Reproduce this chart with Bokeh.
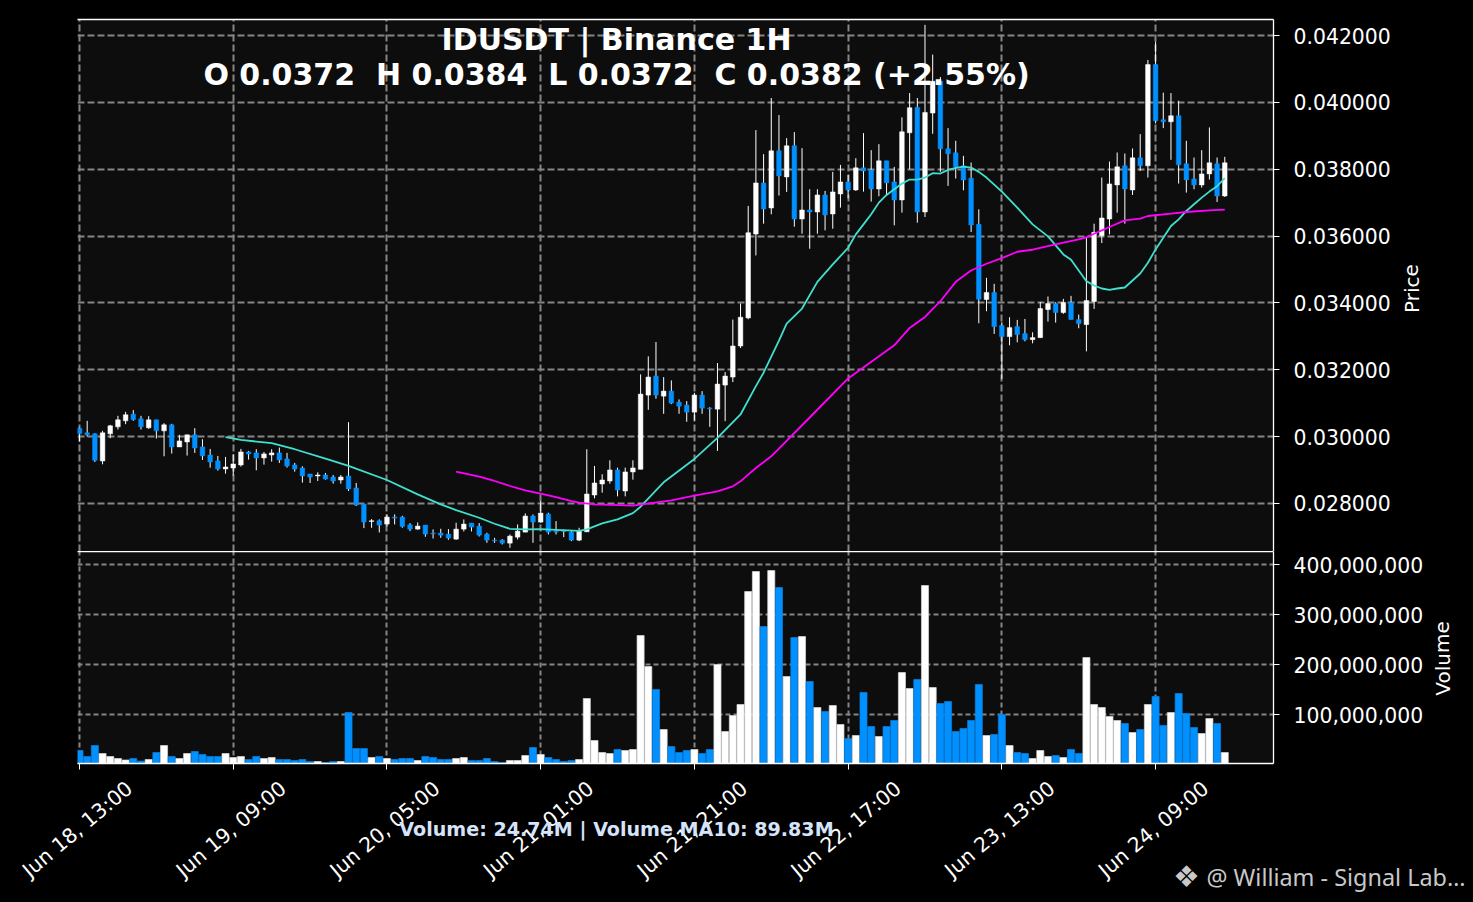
from bokeh.plotting import figure
from bokeh.layouts import column
from bokeh.models import (FixedTicker, Label, LinearAxis, NumeralTickFormatter,
                          ColumnDataSource, Range1d)
from bokeh.embed import file_html
from bokeh.resources import INLINE

# Prices are in units of 0.00001 USDT
opens = [3025,3011,3008,2927,3008,3029,3047,3067,3053,3026,
         3050,3017,3035,2969,2984,3005,2969,2945,2927,2903,
         2906,2915,2954,2951,2936,2945,2951,2933,2915,2906,
         2888,2882,2885,2879,2870,2882,2846,2798,2746,2748,
         2738,2759,2759,2736,2723,2735,2711,2711,2708,2693,
         2723,2741,2732,2708,2690,2690,2681,2699,2714,2762,
         2744,2768,2716,2717,2714,2690,2715,2825,2858,2867,
         2900,2837,2894,2902,3124,3181,3121,3136,3103,3094,
         3073,3124,3085,3082,3154,3178,3271,3355,3606,3759,
         3684,3855,3777,3870,3651,3678,3672,3723,3666,3726,
         3762,3738,3804,3798,3741,3825,3762,3708,3909,3985,
         3672,3968,4063,3861,3849,3810,3773,3635,3410,3431,
         3332,3299,3329,3308,3290,3296,3380,3398,3371,3401,
         3350,3335,3404,3601,3651,3753,3810,3738,3834,3810,
         4113,3948,3942,3960,3816,3771,3753,3786,3816,3720]
highs = [3027,3047,3010,3017,3035,3062,3074,3079,3062,3061,
         3050,3040,3038,3005,3005,3025,2992,2963,2942,2939,
         2947,2963,2957,2962,2954,2962,2967,2951,2921,2911,
         2888,2893,2891,2885,2885,3043,2861,2798,2753,2752,
         2767,2767,2763,2741,2743,2735,2722,2724,2723,2742,
         2752,2741,2741,2712,2697,2693,2707,2737,2770,2767,
         2807,2772,2747,2722,2717,2727,2962,2912,2887,2929,
         2907,2907,2929,3186,3240,3283,3178,3168,3111,3106,
         3131,3136,3088,3220,3193,3350,3398,3690,3917,3845,
         4013,3962,3893,3911,3863,3740,3740,3735,3792,3813,
         3783,3833,3908,3857,3875,3825,3807,3955,4028,4013,
         4232,4143,4076,3923,3885,3840,3820,3680,3475,3457,
         3342,3357,3349,3352,3312,3403,3419,3402,3412,3421,
         3365,3595,3637,3775,3823,3850,3847,3862,3905,4127,
         4182,4029,4028,4005,3885,3835,3857,3925,3835,3837]
lows = [2985,3000,2924,2917,2995,3021,3037,3047,3021,3023,
        2994,2941,2949,2969,2943,2951,2930,2907,2898,2889,
        2883,2910,2931,2899,2916,2925,2921,2907,2895,2862,
        2861,2867,2871,2859,2859,2837,2792,2726,2727,2713,
        2731,2737,2727,2717,2721,2700,2695,2697,2691,2691,
        2716,2716,2701,2682,2682,2677,2667,2692,2714,2682,
        2742,2707,2707,2699,2687,2687,2715,2815,2832,2859,
        2821,2821,2871,2902,3080,3113,3068,3097,3068,3044,
        3048,3068,3029,2957,3046,3163,3265,3351,3542,3637,
        3665,3721,3732,3628,3607,3562,3607,3617,3622,3685,
        3713,3735,3733,3703,3719,3720,3632,3670,3800,3640,
        3657,3906,3792,3750,3772,3737,3612,3339,3375,3307,
        3172,3273,3282,3285,3279,3296,3344,3341,3367,3350,
        3324,3255,3382,3579,3605,3670,3637,3723,3795,3775,
        3937,3923,3828,3757,3730,3740,3745,3769,3702,3717]
closes = [3008,3005,2929,3011,3032,3050,3065,3051,3029,3050,
          3017,3035,2969,2987,3005,2966,2942,2924,2903,2909,
          2918,2954,2948,2936,2948,2951,2930,2912,2903,2882,
          2879,2885,2873,2867,2879,2843,2795,2744,2748,2735,
          2759,2756,2731,2723,2732,2708,2709,2705,2696,2723,
          2738,2729,2705,2690,2688,2681,2702,2717,2762,2744,
          2771,2714,2714,2716,2690,2717,2828,2861,2870,2900,
          2840,2894,2906,3127,3178,3124,3136,3100,3091,3073,
          3124,3085,3083,3157,3181,3271,3357,3610,3759,3681,
          3855,3780,3870,3651,3678,3672,3723,3663,3732,3762,
          3738,3804,3795,3741,3825,3759,3708,3912,3984,3672,
          3970,4063,3861,3846,3807,3768,3633,3411,3431,3329,
          3299,3326,3305,3290,3296,3383,3398,3371,3401,3350,
          3338,3407,3611,3654,3756,3807,3741,3834,3810,4113,
          3945,3942,3960,3813,3768,3753,3786,3819,3720,3819]
# Volume in millions
volumes = [28,16,38,22,16,12,9,12,7,10,
           24,38,16,12,22,26,20,16,16,22,
           14,16,10,16,12,14,10,10,8,10,
           6,6,4,6,6,104,32,32,14,16,
           12,10,12,12,8,16,14,10,10,12,
           14,8,8,12,6,4,8,8,18,34,
           20,14,10,6,8,10,132,48,24,22,
           30,28,30,258,196,150,70,36,24,28,
           30,22,30,200,66,98,120,346,386,276,
           388,354,176,254,256,166,114,106,118,80,
           52,58,144,76,56,76,88,184,152,170,
           358,154,122,126,66,72,88,160,58,60,
           100,38,24,22,12,28,16,18,14,30,
           22,214,120,114,96,88,82,64,70,120,
           136,78,104,142,102,74,62,92,82,24]

ma_fast_idx = [19,21,25,28,32,35,40,44,47,49,52,54,56,58,60,62,65,66,68,70,72,73,75,76,80,83,86,88,89,90,91,92,94,96,98,
               100,101,102,103,104,105,106,107,108,109,110,111,112,113,114,115,116,117,118,120,122,124,126,127,128,129,
               130,131,132,133,134,135,136,137,138,139,140,141,142,143,144,145,146,147,148,149]
ma_fast = [2998,2990,2980,2962,2934,2912,2870,2827,2797,2780,2757,2739,2724,2722,2723,2721,2718,2722,2740,2752,2771,2790,2839,2863,2933,2996,3066,3151,3191,3239,3287,3338,3383,3463,3515,
           3565,3605,3635,3665,3700,3723,3740,3757,3769,3769,3775,3788,3787,3798,3804,3808,3805,3792,3775,3733,3685,3635,3599,3572,3545,3529,
           3497,3465,3452,3443,3439,3443,3446,3467,3488,3520,3560,3595,3630,3650,3675,3695,3715,3733,3749,3773]
ma_slow_idx = [49,52,54,56,58,60,62,64,65,67,70,72,73,77,80,83,85,86,87,88,90,95,100,106,108,110,112,114,116,118,120,122,124,126,128,130,131,132,133,134,136,138,139,142,144,147,149]
ma_slow = [2895,2880,2867,2852,2839,2829,2819,2807,2802,2797,2795,2793,2796,2809,2823,2836,2851,2866,2886,2906,2941,3057,3174,3273,3325,3358,3405,3463,3497,3517,3534,3553,3559,3570,3580,3590,3596,3607,3617,3627,3647,3652,3660,3667,3672,3677,3679]

tick_idx = [0, 20, 40, 60, 80, 100, 120, 140]
tick_labels = ["Jun 18, 13:00", "Jun 19, 09:00", "Jun 20, 05:00", "Jun 21, 01:00",
               "Jun 21, 21:00", "Jun 22, 17:00", "Jun 23, 13:00", "Jun 24, 09:00"]
price_ticks = [0.028, 0.030, 0.032, 0.034, 0.036, 0.038, 0.040, 0.042]
volume_ticks = [100e6, 200e6, 300e6, 400e6]

UP = "#ffffff"
DOWN = "#0090ff"
BG = "#0d0d0d"
GRID = "#858585"
FONT = "DejaVu Sans"

idx = list(range(len(closes)))
scale = 1e-5
colors = [UP if c >= o else DOWN for o, c in zip(opens, closes)]
edges = ["#d9d9d9" if c >= o else "#0a80dc" for o, c in zip(opens, closes)]
src = ColumnDataSource(dict(
    x=idx,
    o=[v * scale for v in opens], h=[v * scale for v in highs],
    l=[v * scale for v in lows], c=[v * scale for v in closes],
    v=[v * 1e6 for v in volumes], color=colors, edge=edges,
    bottom=[0.0] * len(idx),
))

x_range = Range1d(-0.26, 155.34)


def style(p, ticks, grid_width, grid_dash):
    p.background_fill_color = BG
    p.border_fill_color = "#000000"
    p.outline_line_color = None
    p.xgrid.ticker = FixedTicker(ticks=tick_idx)
    p.ygrid.ticker = FixedTicker(ticks=ticks)
    for g in (p.xgrid[0], p.ygrid[0]):
        g.grid_line_color = GRID
        g.grid_line_width = grid_width
        g.grid_line_dash = grid_dash
    ax = p.yaxis[0]
    ax.ticker = FixedTicker(ticks=ticks)
    ax.axis_line_color = "#ffffff"
    ax.axis_line_width = 1.3
    ax.major_tick_line_color = "#ffffff"
    ax.major_tick_out = 6
    ax.major_tick_in = 0
    ax.minor_tick_line_color = None
    ax.major_label_text_color = "#ffffff"
    ax.major_label_text_font = FONT
    ax.major_label_text_font_size = "20.4px"
    ax.major_label_standoff = 14


def edge_axis():
    a = LinearAxis(ticker=FixedTicker(ticks=[]))
    a.axis_line_color = "#ffffff"
    a.axis_line_width = 1.5
    a.major_tick_line_color = None
    a.minor_tick_line_color = None
    a.major_label_text_font_size = "0px"
    a.major_label_standoff = 0
    return a


price = figure(width=1473, height=551, frame_width=1196, frame_height=532,
               x_range=x_range, y_range=Range1d(0.02656, 0.04248),
               y_axis_location="right", x_axis_location=None,
               output_backend="svg", toolbar_location=None,
               min_border_left=77, min_border_top=19, min_border_bottom=0, min_border_right=200)
style(price, price_ticks, 2, "7 3")
price.yaxis[0].formatter = NumeralTickFormatter(format="0.000000")
price.add_layout(edge_axis(), "above")

price.segment("x", "h", "x", "l", source=src, line_color="#ffffff", line_width=1)
price.vbar("x", 0.6, "o", "c", source=src, fill_color="color", line_color="color", line_width=0.5)
price.line(ma_fast_idx, [v * scale for v in ma_fast], line_color="#40e0d0", line_width=1.8)
price.line(ma_slow_idx, [v * scale for v in ma_slow], line_color="#ff00ff", line_width=1.8)

price.add_layout(Label(x=69.87, y=0.04188, text="IDUSDT | Binance 1H",
                       text_align="center", text_baseline="middle", text_color="#ffffff",
                       text_font=FONT, text_font_style="bold", text_font_size="30px"))
price.add_layout(Label(x=69.87, y=0.04083,
                       text="O 0.0372\u00a0 H 0.0384\u00a0 L 0.0372\u00a0 C 0.0382 (+2.55%)",
                       text_align="center", text_baseline="middle", text_color="#ffffff",
                       text_font=FONT, text_font_style="bold", text_font_size="30px"))

vol = figure(width=1473, height=351, frame_width=1196, frame_height=212,
             x_range=x_range, y_range=Range1d(2e6, 426e6),
             y_axis_location="right", x_axis_location="below",
             output_backend="svg", toolbar_location=None,
             min_border_left=77, min_border_top=0, min_border_bottom=139, min_border_right=200)
style(vol, volume_ticks, 2, "5 3")
vol.yaxis[0].formatter = NumeralTickFormatter(format="0,0")

# The rotated labels are centred under their tick in the reference: the marks are
# drawn as minor ticks at the true candles, the labels sit at a small offset from them.
label_offset = 6.5
label_pos = [t + label_offset for t in tick_idx]
xa = vol.below[0]
xa.ticker = FixedTicker(ticks=label_pos, minor_ticks=tick_idx)
xa.major_label_overrides = dict(zip(label_pos, tick_labels))
xa.major_label_orientation = 0.70
xa.axis_line_color = "#ffffff"
xa.axis_line_width = 1.3
xa.major_tick_line_color = None
xa.major_tick_out = 6
xa.major_tick_in = 0
xa.minor_tick_line_color = "#ffffff"
xa.minor_tick_out = 6
xa.minor_tick_in = 0
xa.major_label_text_color = "#ffffff"
xa.major_label_text_font = FONT
xa.major_label_text_font_size = "20.4px"
xa.major_label_standoff = 16

vol.add_layout(edge_axis(), "above")

vol.vbar("x", 0.92, "v", "bottom", source=src, fill_color="color", line_color="edge", line_width=0.7)

# Transparent sheet over the page for the texts that lie outside the two frames
sheet = figure(width=1473, height=902, frame_width=1473, frame_height=902, frame_align=False,
               x_range=Range1d(0, 1473), y_range=Range1d(902, 0),
               x_axis_location=None, y_axis_location=None,
               output_backend="svg", toolbar_location=None,
               min_border=0, margin=(-902, 0, 0, 0))
sheet.background_fill_color = None
sheet.border_fill_color = None
sheet.outline_line_color = None
sheet.grid.visible = False
sheet.add_layout(Label(x=1411, y=288, text="Price", angle=1.5708,
                       text_align="center", text_baseline="middle", text_color="#ffffff",
                       text_font=FONT, text_font_size="20px"))
sheet.add_layout(Label(x=1442, y=658, text="Volume", angle=1.5708,
                       text_align="center", text_baseline="middle", text_color="#ffffff",
                       text_font=FONT, text_font_size="20px"))
sheet.add_layout(Label(x=616, y=829, text="Volume: 24.74M | Volume MA10: 89.83M",
                       text_align="center", text_baseline="middle", text_color="#d6e4fb",
                       text_font=FONT, text_font_style="bold", text_font_size="19.1px"))
sheet.add_layout(Label(x=1186, y=876, text="❖",
                       text_align="center", text_baseline="middle", text_color="#c8c8c8",
                       text_font=FONT, text_font_size="30px"))
sheet.add_layout(Label(x=1206, y=876, text="@ William - Signal Lab…",
                       text_align="left", text_baseline="middle", text_color="#c8c8c8",
                       text_font="Noto Sans", text_font_size="23.4px"))

layout = column(price, vol, sheet, spacing=0)
html = file_html(layout, INLINE)
html = html.replace("</head>", "<style>html,body{margin:0;background:#000;overflow:hidden}</style></head>", 1)
open("out.html", "w").write(html)
